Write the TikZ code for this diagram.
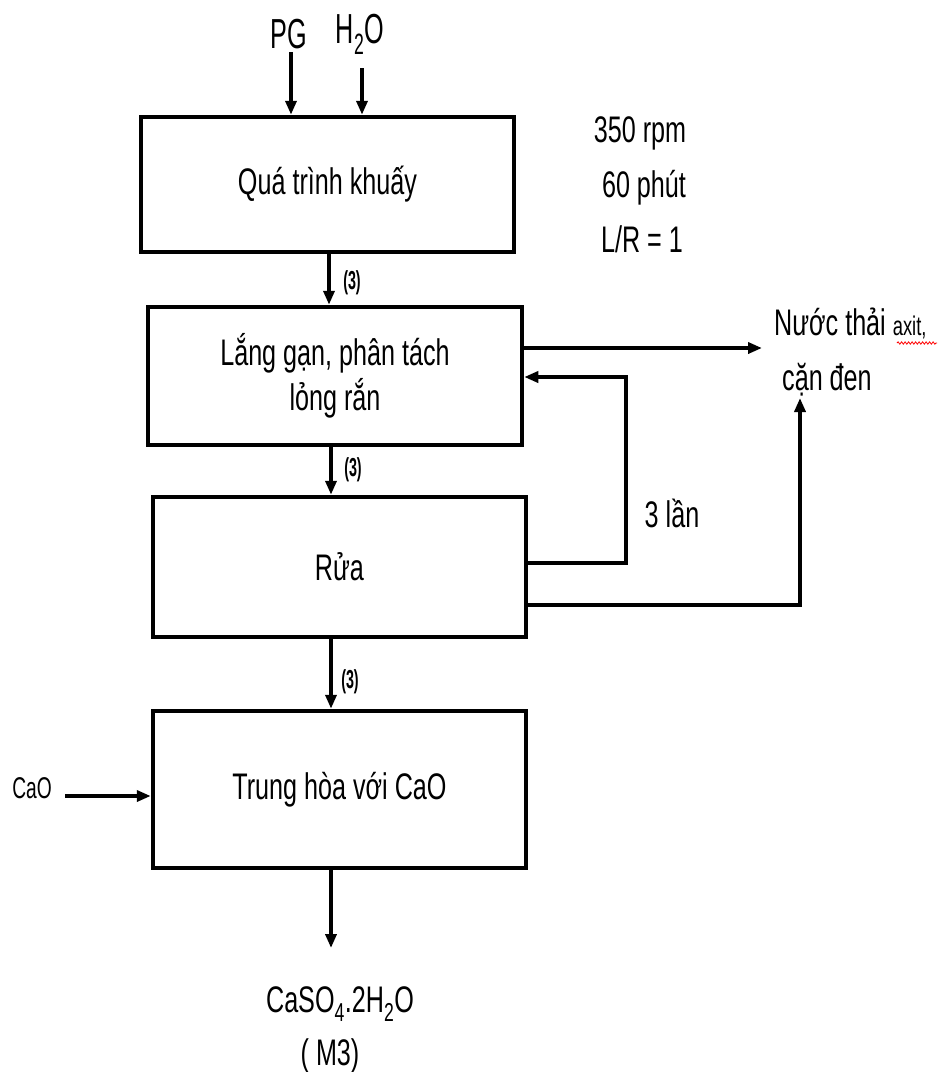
\documentclass[tikz,border=0pt]{standalone}
\usepackage{fontspec}
\setmainfont{Liberation Sans}[FakeStretch=0.68]
\newfontfamily\nfont{Liberation Sans}[FakeStretch=0.6]
\newfontfamily\lfont{Liberation Sans}[FakeStretch=0.55]
\newfontfamily\mfont{Liberation Sans}[FakeStretch=0.64]
\usetikzlibrary{arrows.meta,decorations.pathmorphing}
\tikzset{
  box/.style={draw, line width=4.5pt, inner sep=0pt, align=center,
    font=\fontsize{37}{45}\selectfont},
  arr/.style={line width=4pt, -{Triangle[length=14pt,width=11pt]}},
  txt/.style={inner sep=0pt, font=\fontsize{37}{45}\selectfont},
  top/.style={inner sep=0pt, font=\nfont\fontsize{42}{50}\selectfont},
  lab/.style={inner sep=0pt, font=\lfont\bfseries\fontsize{26}{28}\selectfont},
}
\begin{document}
\begin{tikzpicture}[x=1pt,y=-1pt]
\useasboundingbox (0,0) rectangle (950,1072);

% boxes
\node[box, minimum width=373pt, minimum height=135pt] (b1) at (327.5,184.5) {Quá trình khuấy};
\node[box, minimum width=374pt, minimum height=138pt] (b2) at (335,376) {Lắng gạn, phân tách\\lỏng rắn};
\node[box, minimum width=373pt, minimum height=140pt] (b3) at (339.5,567) {Rửa};
\node[box, minimum width=373pt, minimum height=157pt] (b4) at (339.5,789.5) {Trung hòa với CaO};

% inputs on top
\node[top, anchor=base] (pg) at (289,48) {PG};
\node[top, anchor=base] (h2o) at (360,43) {H\textsubscript{2}O};
\coordinate (pgin) at (291,52);
\coordinate (h2oin) at (362,68);
\draw[arr] (pgin) -- (pgin |- b1.north);
\draw[arr] (h2oin) -- (h2oin |- b1.north);

% conditions
\node[txt, anchor=base] (c1) at (640,142) {350 rpm};
\node[txt, anchor=base] (c2) at (644,197) {60 phút};
\node[txt, anchor=base] (c3) at (642,252) {L/R = 1};

% vertical flow
\draw[arr] ([xshift=1.5pt]b1.south) -- ([xshift=1.5pt]b1.south |- b2.north);
\draw[arr] ([xshift=-4pt]b2.south) -- ([xshift=-4pt]b2.south |- b3.north);
\draw[arr] ([xshift=-8.5pt]b3.south) -- ([xshift=-8.5pt]b3.south |- b4.north);
\coordinate (pend) at (331,948);
\draw[arr] (pend |- b4.south) -- (pend);
\node[lab] (l1) at (352,283) {(3)};
\node[lab] (l2) at (353,470) {(3)};
\node[lab] (l3) at (350,682) {(3)};

% waste output
\node[txt, anchor=base west] (w1) at (774,335) {Nước thải {\fontsize{27}{29}\selectfont axit,}};
\node[txt, anchor=base west] (w2) at (782,390) {cặn đen};
\draw[red, line width=0.8pt, decorate, decoration={snake, amplitude=1.2pt, segment length=3.5pt}] (897,343) -- (937,343);
\coordinate (out1) at (762,348);
\draw[arr] (b2.east |- out1) -- (out1);

% recycle loop
\coordinate (lpb) at (626,563);
\coordinate (lpt) at (626,377);
\draw[arr] (b3.east |- lpb) -- (lpb) -- (lpt) -- (b2.east |- lpt);
\node[txt, anchor=base] (n3) at (672,527) {3 lần};

% wash water to waste
\coordinate (wb) at (800,605);
\coordinate (wt) at (800,398);
\draw[arr] (b3.east |- wb) -- (wb) -- (wt);

% CaO input
\node[inner sep=0pt, font=\mfont\fontsize{30}{32}\selectfont, anchor=base] (cao) at (32,798) {CaO};
\coordinate (caoin) at (65,796);
\draw[arr] (caoin) -- (caoin -| b4.west);

% product
\node[txt, anchor=base] (p1) at (340,1012) {CaSO\textsubscript{4}.2H\textsubscript{2}O};
\node[txt, anchor=base] (p2) at (330,1065) {( M3)};
\end{tikzpicture}
\end{document}
